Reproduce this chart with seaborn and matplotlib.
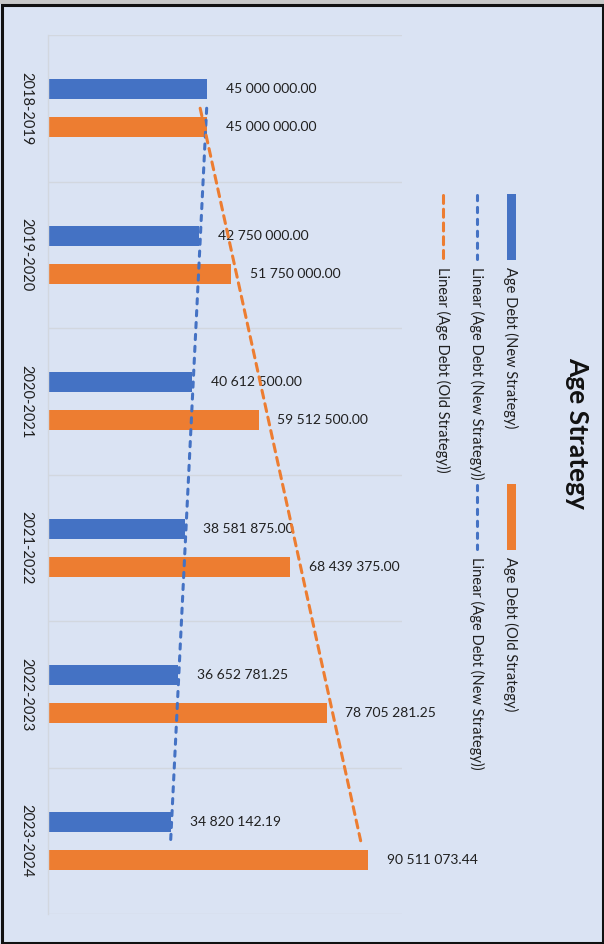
import numpy as np
import pandas as pd
import matplotlib
matplotlib.use("Agg")
import matplotlib.pyplot as plt
import seaborn as sns
from matplotlib.patches import Rectangle
from matplotlib.lines import Line2D

# data
periods = ["2018-2019", "2019-2020", "2020-2021", "2021-2022", "2022-2023", "2023-2024"]
new_strategy = [45000000.00, 42750000.00, 40612500.00, 38581875.00, 36652781.25, 34820142.19]
old_strategy = [45000000.00, 51750000.00, 59512500.00, 68439375.00, 78705281.25, 90511073.44]
series_names = ["Age Debt (New Strategy)", "Age Debt (Old Strategy)"]

blue = "#4472C4"
orange = "#ED7D31"
bg = "#DAE3F3"
grid_col = "#D2D7DF"

df = pd.DataFrame({
    "period": periods * 2,
    "value": new_strategy + old_strategy,
    "series": [series_names[0]] * len(periods) + [series_names[1]] * len(periods),
})

sns.set_theme(style="white")
plt.rcParams["font.family"] = ["Lato", "DejaVu Sans"]

W, H = 604, 944
fig = plt.figure(figsize=(W / 100, H / 100), dpi=100)
fig.patch.set_facecolor(bg)

ax = fig.add_axes([48 / W, 1 - 914 / H, 354 / W, 879 / H])
ax.set_facecolor(bg)

sns.barplot(data=df, y="period", x="value", hue="series", orient="h",
            palette=[blue, orange], width=0.52, gap=0.47, ax=ax,
            legend=False, saturation=1, linewidth=0, zorder=2)

# data labels
for cont in ax.containers:
    vals = cont.datavalues
    labs = [f"{v:,.2f}".replace(",", " ") for v in vals]
    ax.bar_label(cont, labels=labs, padding=13.5, fontsize=10, color="#202020")

# linear trendlines (Excel style, fitted over category index)
idx = np.arange(len(periods))
for vals, col, dash in [(new_strategy, blue, (1.7, 2.2)), (old_strategy, orange, (2.6, 1.9))]:
    k, b = np.polyfit(idx + 1, vals, 1)
    fit = k * (idx + 1) + b
    ax.plot(fit, idx, color=col, lw=2.2, dashes=dash, dash_capstyle="round", zorder=4)

ax.set_xlim(0, 100000000)
ax.set_ylim(len(periods) - 0.5, -0.5)
for k in range(0, len(periods) + 1):
    ax.axhline(k - 0.5, color=grid_col, lw=1.0, zorder=1)
ax.set_xticks([])
ax.set_xlabel("")
ax.set_ylabel("")
ax.set_yticks(idx)
ax.set_yticklabels(periods, rotation=-90, va="center", ha="right", fontsize=10.5, color="#202020")
ax.tick_params(axis="y", length=0, pad=10.5)
for s in ["top", "right", "bottom"]:
    ax.spines[s].set_visible(False)
ax.spines["left"].set_color(grid_col)
ax.spines["left"].set_linewidth(1.0)

# overlay in pixel coords for title, rotated legend and frame
ov = fig.add_axes([0, 0, 1, 1])
ov.set_xlim(0, W)
ov.set_ylim(H, 0)
ov.axis("off")
ov.patch.set_visible(False)

ov.text(577, 433, "Age Strategy", rotation=-90, ha="center", va="center",
        fontsize=19, fontweight="bold", color="#111111")

leg_items = [
    ("patch", blue, None, series_names[0], 511, 194),
    ("patch", orange, None, series_names[1], 511, 484),
    ("line", blue, (1.7, 2.2), "Linear (Age Debt (New Strategy))", 477, 194),
    ("line", blue, (1.7, 2.2), "Linear (Age Debt (New Strategy))", 477, 484),
    ("line", orange, (2.6, 1.9), "Linear (Age Debt (Old Strategy))", 443, 194),
]
for kind, col, dash, lab, x, y in leg_items:
    if kind == "patch":
        ov.add_patch(Rectangle((x - 4.5, y), 9, 66, color=col, lw=0))
    else:
        ov.add_line(Line2D([x, x], [y + 1, y + 65], color=col, lw=2.2, dashes=dash,
                           dash_capstyle="round"))
    ov.text(x, y + 73, lab, rotation=-90, ha="center", va="top", fontsize=10.5, color="#202020")

# outer frame
ov.add_patch(Rectangle((0, 0), W, 4, color="#C8C8C8", lw=0, clip_on=False))
ov.add_patch(Rectangle((1.5, 5), W - 3, H - 6.5, fill=False, edgecolor="#111111",
                       lw=2.2, clip_on=False))

fig.savefig("out.png", dpi=100, facecolor=bg)
